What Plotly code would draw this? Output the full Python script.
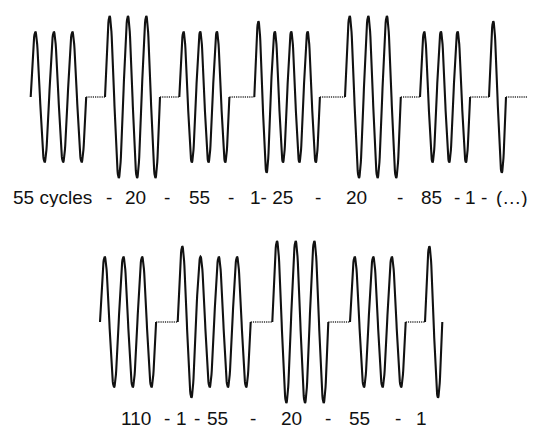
import numpy as np
import plotly.graph_objects as go
from plotly.subplots import make_subplots

# ---------------- data ----------------
# cycle counts of each burst (row 1 and row 2)
top_counts = [55, 20, 55, 1, 25, 20, 85, 1]
bottom_counts = [110, 1, 55, 20, 55, 1]
# relative amplitude of each burst (1.0 = normal burst)
top_amp = [1.0, 1.24, 1.0, 1.16, 1.0, 1.24, 1.0, 1.16]
bottom_amp = [1.0, 1.16, 1.0, 1.24, 1.0, 1.16]
# burst follows the previous one with no pause
top_joined = [False, False, False, False, True, False, False, False]
bottom_joined = [False, False, True, False, False, False]
# text labels below each row
top_labels = ["55 cycles", "-", "20", "-", "55", "-", "1- 25", "-", "20", "-",
              "85", "-", "1", "-", "(…)"]
bottom_labels = ["110", "-", "1", "-", "55", "-", "20", "-", "55", "-", "1"]

# ---------------- layout geometry (drawing units) ----------------
top_start = [30.7, 105, 179.3, 254.3, None, 345, 420, 489]
top_period = [18.5, 18.33, 16.7, 16.4, 16.4, 18.6, 16.7, 17.0]
top_tail_end = 527.7
bottom_start = [100, 177.7, None, 272.3, 350, 425]
bottom_period = [18.7, 18.25, 18.25, 18.67, 18.57, 17.3]
bottom_tail_end = None

top_label_x = [52.5, 109, 135.5, 167, 199, 231, 271, 318, 356, 400, 431, 457, 470.5, 483.5, 512]
bottom_label_x = [135.5, 166.5, 181, 196.7, 217, 253, 291, 327.5, 359.5, 398, 421]

W, H = 534, 427
UNIT = 65.3          # pixels per amplitude unit
top_center_px, bottom_center_px = 97, 322
half_range = 1.45


def domain(center_px):
    lo_px = center_px + half_range * UNIT
    hi_px = center_px - half_range * UNIT
    return [max(0.0, 1 - lo_px / H), min(1.0, 1 - hi_px / H)]


def build(counts, amps, joined, starts, periods, tail_end):
    wx, wy, dx, dy = [], [], [], []
    prev_end = None
    for i, c in enumerate(counts):
        n_draw = 1 if c == 1 else 3
        x0 = prev_end if joined[i] else starts[i]
        if not joined[i] and prev_end is not None:
            dx += [prev_end, x0, None]
            dy += [0, 0, None]
        t = np.linspace(0, n_draw, 60 * n_draw + 1)
        xs = x0 + t * periods[i]
        ys = amps[i] * np.sin(2 * np.pi * t)
        if not joined[i] and wx:
            wx.append(None)
            wy.append(None)
        wx += list(xs)
        wy += list(ys)
        prev_end = x0 + n_draw * periods[i]
    if tail_end is not None:
        dx += [prev_end, tail_end, None]
        dy += [0, 0, None]
    return wx, wy, dx, dy


fig = make_subplots(rows=2, cols=1)
for row, args in ((1, (top_counts, top_amp, top_joined, top_start, top_period, top_tail_end)),
                  (2, (bottom_counts, bottom_amp, bottom_joined, bottom_start, bottom_period, bottom_tail_end))):
    wx, wy, dx, dy = build(*args)
    fig.add_trace(go.Scatter(x=dx, y=dy, mode="lines",
                             line=dict(color="#333", width=1.6, dash="1.2px,1px"),
                             hoverinfo="skip", showlegend=False), row=row, col=1)
    fig.add_trace(go.Scatter(x=wx, y=wy, mode="lines",
                             line=dict(color="#111", width=2.1),
                             hoverinfo="skip", showlegend=False), row=row, col=1)

ax = dict(visible=False, range=[0, W], fixedrange=True)
fig.update_layout(
    width=W, height=H, margin=dict(l=0, r=0, t=0, b=0),
    paper_bgcolor="white", plot_bgcolor="white",
    xaxis=dict(ax, domain=[0, 1]), xaxis2=dict(ax, domain=[0, 1]),
    yaxis=dict(visible=False, range=[-half_range, half_range], domain=domain(top_center_px)),
    yaxis2=dict(visible=False, range=[-half_range, half_range], domain=domain(bottom_center_px)),
)

font = dict(family="Liberation Sans, Arial, sans-serif", size=19, color="#111")
for txt, x in zip(top_labels, top_label_x):
    fig.add_annotation(x=x, xref="x", y=1 - 197.5 / H, yref="paper", text=txt,
                       showarrow=False, font=font, xanchor="center", yanchor="middle",
                       height=20, valign="middle", borderpad=0)
for txt, x in zip(bottom_labels, bottom_label_x):
    fig.add_annotation(x=x, xref="x2", y=1 - 417.5 / H, yref="paper", text=txt,
                       showarrow=False, font=font, xanchor="center", yanchor="middle",
                       height=18, valign="middle", borderpad=0)

fig.write_html("out.html")
